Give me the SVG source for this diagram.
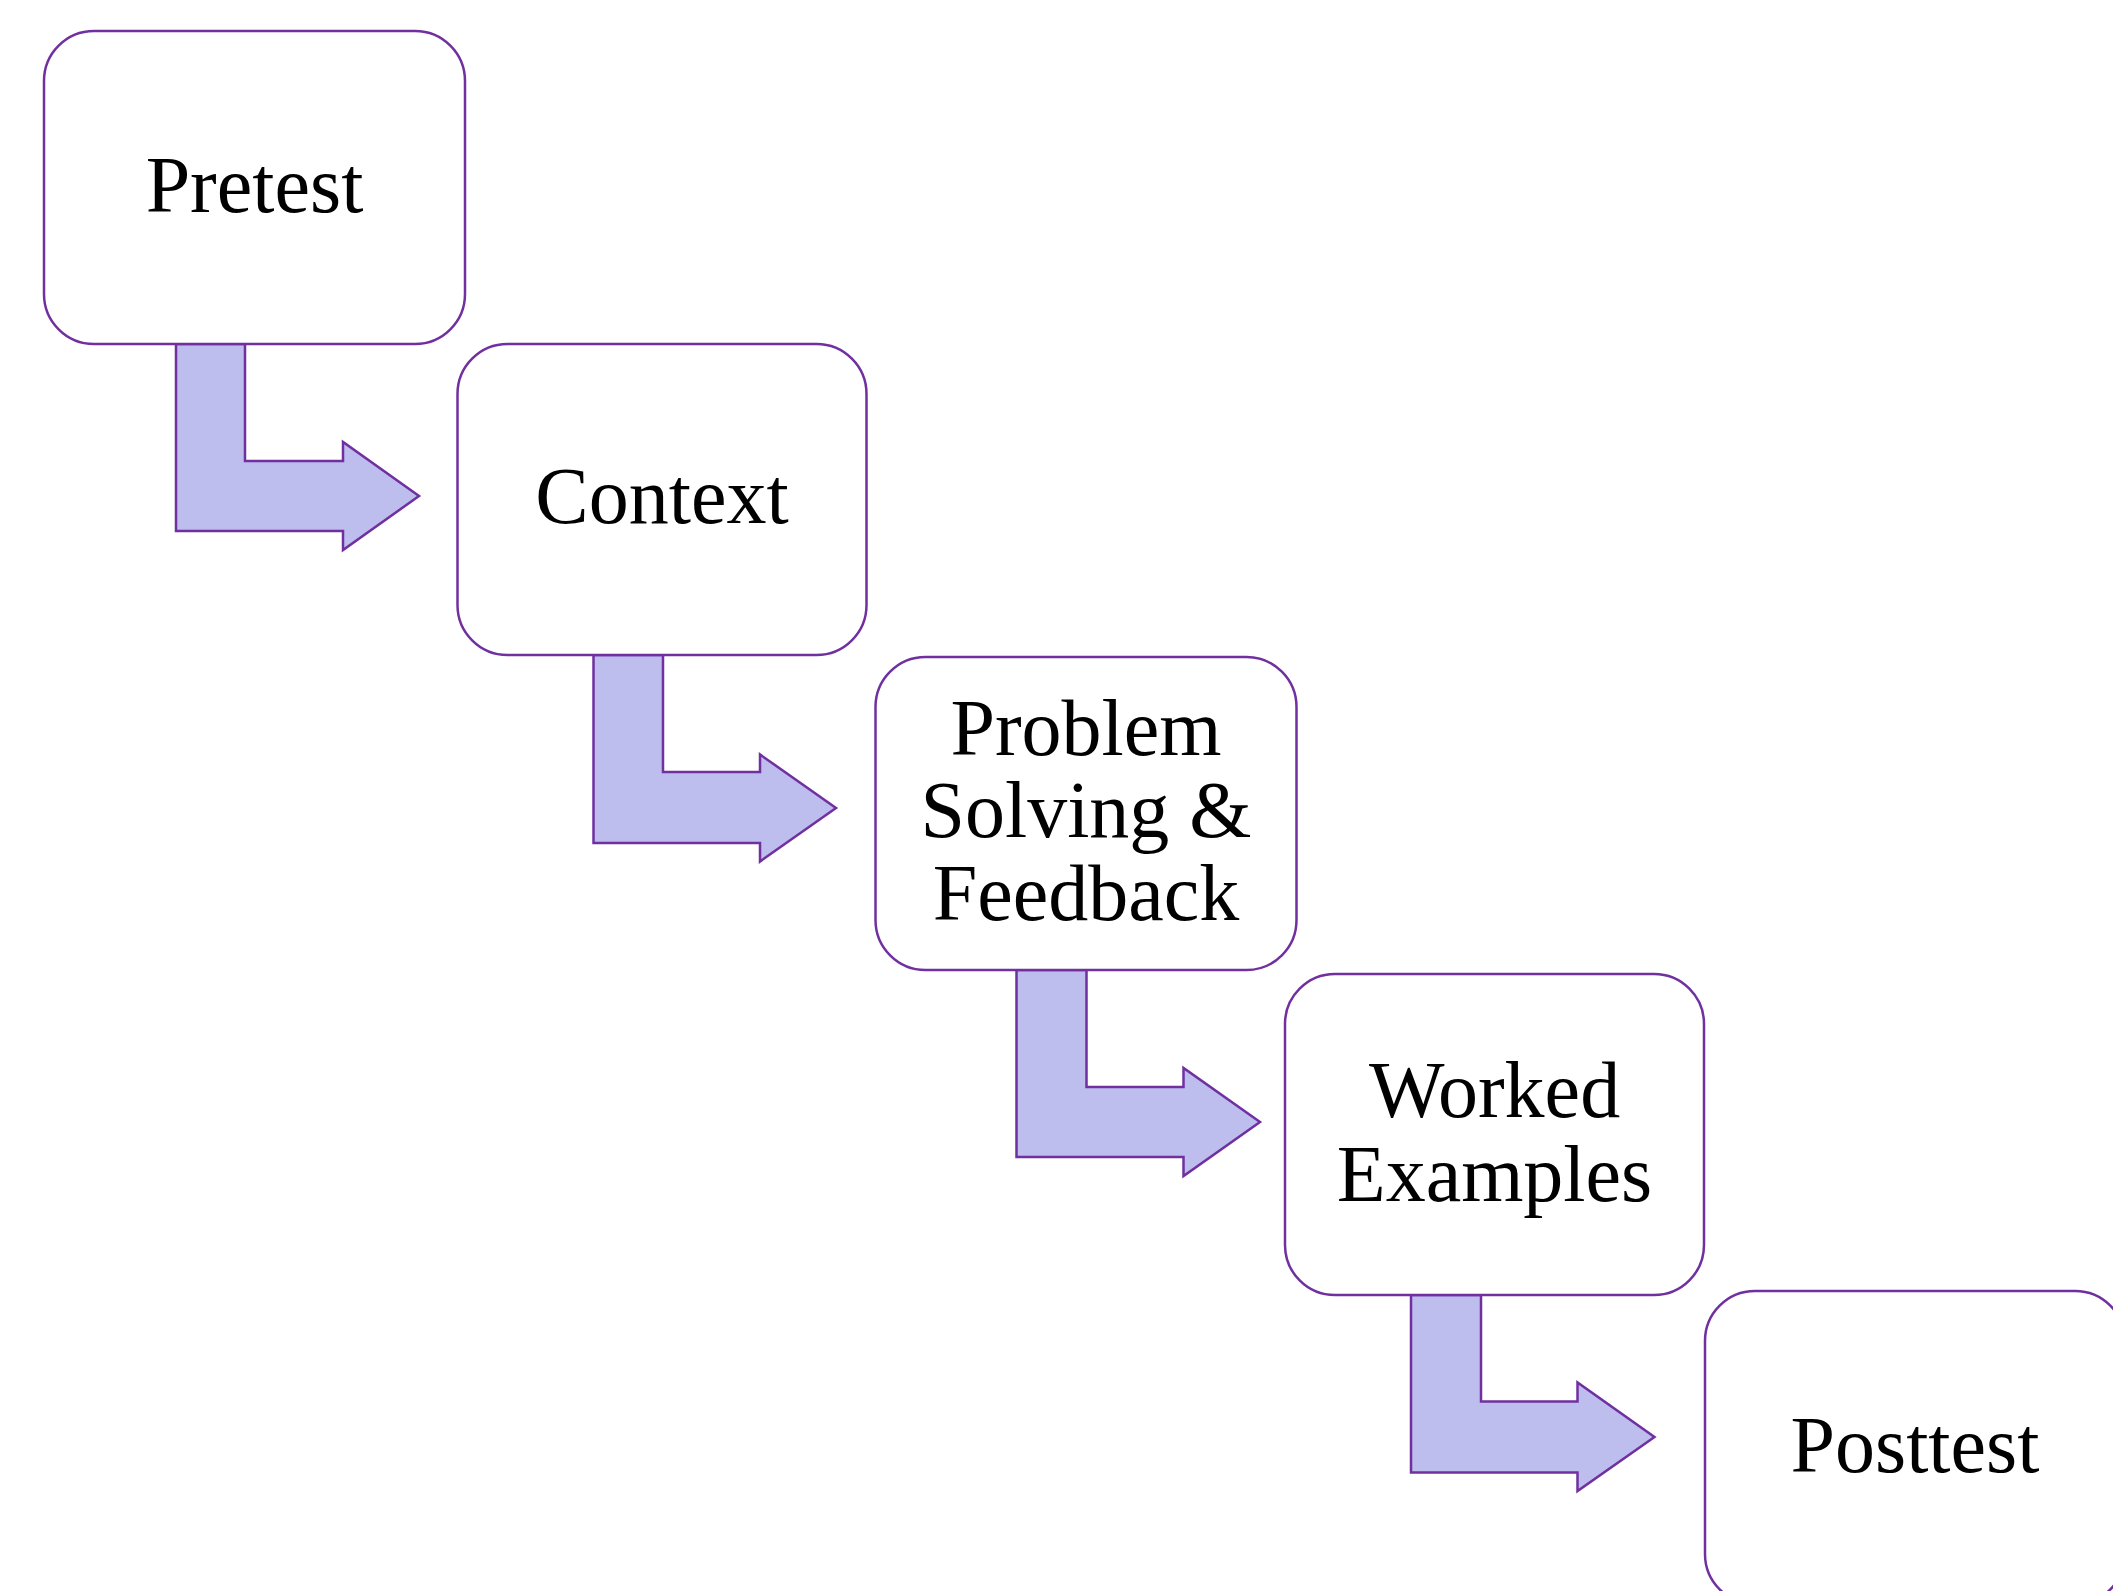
<svg xmlns="http://www.w3.org/2000/svg" width="2113" height="1591" viewBox="0 0 2113 1591">
<style>
.box{fill:#FFFFFF;stroke:#7030A0;stroke-width:2.5}
.arr{fill:#BDBDEE;stroke:#7030A0;stroke-width:2.5;stroke-linejoin:miter}
.lbl{font-family:"Liberation Serif","Times New Roman",serif;font-size:80px;fill:#000000;text-anchor:middle}
</style>
<rect width="2113" height="1591" fill="#FFFFFF"/>
<g id="connectors">
<polygon class="arr" points="176,344 245,344 245,461 343,461 343,442 419,496 343,550 343,531 176,531"/>
<polygon class="arr" points="593.5,655 663,655 663,772 760,772 760,754.5 836,808 760,861.5 760,843 593.5,843"/>
<polygon class="arr" points="1016.5,970 1086.5,970 1086.5,1087 1183.5,1087 1183.5,1068 1260,1122 1183.5,1176 1183.5,1157 1016.5,1157"/>
<polygon class="arr" points="1411,1295 1481,1295 1481,1401.5 1577.5,1401.5 1577.5,1382.5 1654.5,1437 1577.5,1491 1577.5,1472.5 1411,1472.5"/>
</g>
<g id="pretest">
<rect class="box" x="44" y="31" width="421" height="313" rx="50" ry="50"/>
<text class="lbl" x="254.5" y="211.5">Pretest</text>
</g>
<g id="context">
<rect class="box" x="457.5" y="344" width="409" height="311" rx="50" ry="50"/>
<text class="lbl" x="662" y="523">Context</text>
</g>
<g id="problem">
<rect class="box" x="875.5" y="657" width="421" height="313" rx="50" ry="50"/>
<text class="lbl" x="1086" y="755">Problem</text>
<text class="lbl" x="1086" y="837">Solving &amp;</text>
<text class="lbl" x="1086" y="919.5">Feedback</text>
</g>
<g id="worked">
<rect class="box" x="1285" y="974" width="419" height="321" rx="50" ry="50"/>
<text class="lbl" x="1494.5" y="1117">Worked</text>
<text class="lbl" x="1494.5" y="1200.5">Examples</text>
</g>
<g id="posttest">
<rect class="box" x="1705" y="1291" width="420" height="313" rx="50" ry="50"/>
<text class="lbl" x="1915" y="1471.5">Posttest</text>
</g>
</svg>
